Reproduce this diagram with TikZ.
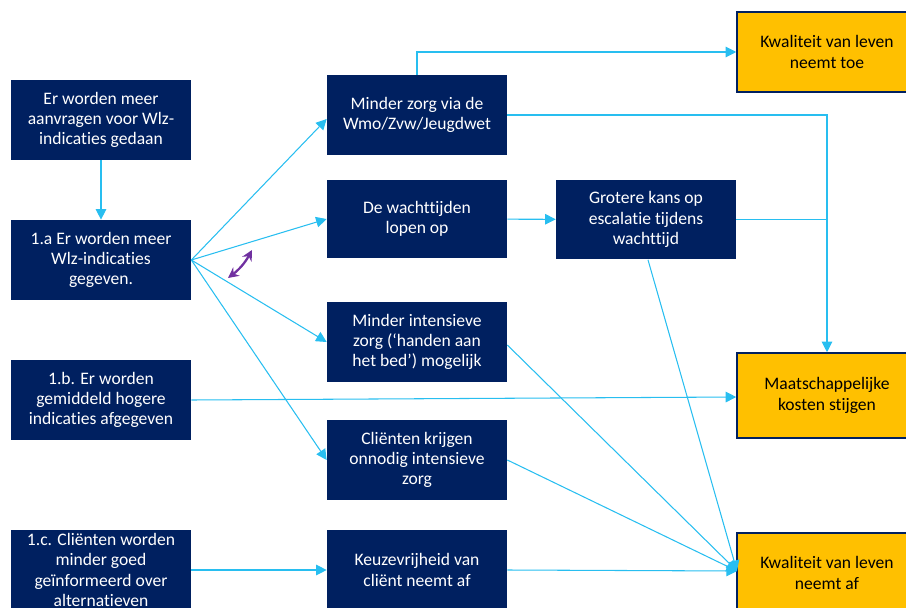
\documentclass[tikz,border=0pt]{standalone}
\usepackage{fontspec}
\setmainfont{Carlito}[RawFeature=-liga]
\usetikzlibrary{arrows.meta}
\definecolor{navy}{RGB}{0,32,96}
\definecolor{skyline}{RGB}{40,190,240}
\definecolor{gold}{RGB}{255,192,0}
\definecolor{violet}{RGB}{112,48,160}
\begin{document}
\begin{tikzpicture}[x=0.02cm, y=-0.02cm,
            every node/.style={font=\fontsize{10}{11.6}\selectfont, align=center, inner sep=0pt},
            cause/.style={fill=navy, text=white, minimum width=3.6cm, minimum height=1.6cm},
            effect/.style={fill=gold, draw=navy, line width=0.9pt, text=black, minimum width=3.6cm, minimum height=1.6cm},
            link/.style={draw=skyline, line width=0.6pt, -{Triangle[length=6pt,width=6pt]}},
            joint/.style={draw=skyline, line width=0.6pt}]

            \clip (0,0) rectangle (906,608);
            \useasboundingbox (0,0) rectangle (906,608);

            % linker kolom
            \node[cause] (aanvraag) at (101,120) {Er worden meer\\aanvragen voor Wlz-\\indicaties gedaan};
            \node[cause] (meer) at (101,260) {1.a Er worden meer\\Wlz-indicaties\\gegeven.};
            \node[cause] (hoger) at (101,400) {1.b. Er worden\\gemiddeld hogere\\indicaties afgegeven};
            \node[cause] (info) at (101,570) {1.c. Cliënten worden\\minder goed\\geïnformeerd over\\alternatieven};

            % middelste kolom
            \node[cause] (wmo) at (417,115) {Minder zorg via de\\Wmo/Zvw/Jeugdwet};
            \node[cause, minimum height=1.56cm] (wacht) at (417,219) {De wachttijden\\lopen op};
            \node[cause] (handen) at (417,342) {Minder intensieve\\zorg (‘handen aan\\het bed’) mogelijk};
            \node[cause] (onnodig) at (417,460) {Cliënten krijgen\\onnodig intensieve\\zorg};
            \node[cause] (keuze) at (417,570) {Keuzevrijheid van\\cliënt neemt af};
            \node[cause] (escalatie) at (646,219.5) {Grotere kans op\\escalatie tijdens\\wachttijd};

            % gevolgen
            \node[effect] (toe) at (827,52) {Kwaliteit van leven\\neemt toe};
            \node[effect, minimum height=1.7cm] (kosten) at (827,395.5) {Maatschappelijke\\kosten stijgen};
            \node[effect] (af) at (827,573) {Kwaliteit van leven\\neemt af};

            \coordinate (tip) at (737,571);

            \draw[link] (aanvraag) -- (meer);
            \draw[link] (meer.east) -- ([yshift=-0.08cm]wmo.west);
            \draw[link] (meer.east) -- (wacht.west);
            \draw[link] (meer.east) -- (handen.west);
            \draw[link] (meer.east) -- (onnodig.west);
            \draw[link] (hoger.east) -- ([yshift=-0.03cm]kosten.west);
            \draw[link] (info) -- (keuze);
            \draw[link] (wmo.north) |- (toe.west);
            \draw[link] (wmo.east) -| (kosten.north);
            \draw[joint] (escalatie.east) -- (escalatie.east -| kosten.north);
            \draw[link] (wacht) -- (escalatie);
            \draw[link] ([xshift=0.04cm]escalatie.south) -- (tip);
            \draw[link] ([yshift=-0.06cm]handen.east) -- (tip);
            \draw[link] (onnodig.east) -- (tip);
            \draw[link] (keuze.east) -- (tip);

            \draw[violet, line width=1.3pt, {Stealth[length=6pt,width=6pt]}-{Stealth[length=6pt,width=6pt]}]
                (228,278) to[bend right=12] (252,250);
        \end{tikzpicture}
\end{document}
